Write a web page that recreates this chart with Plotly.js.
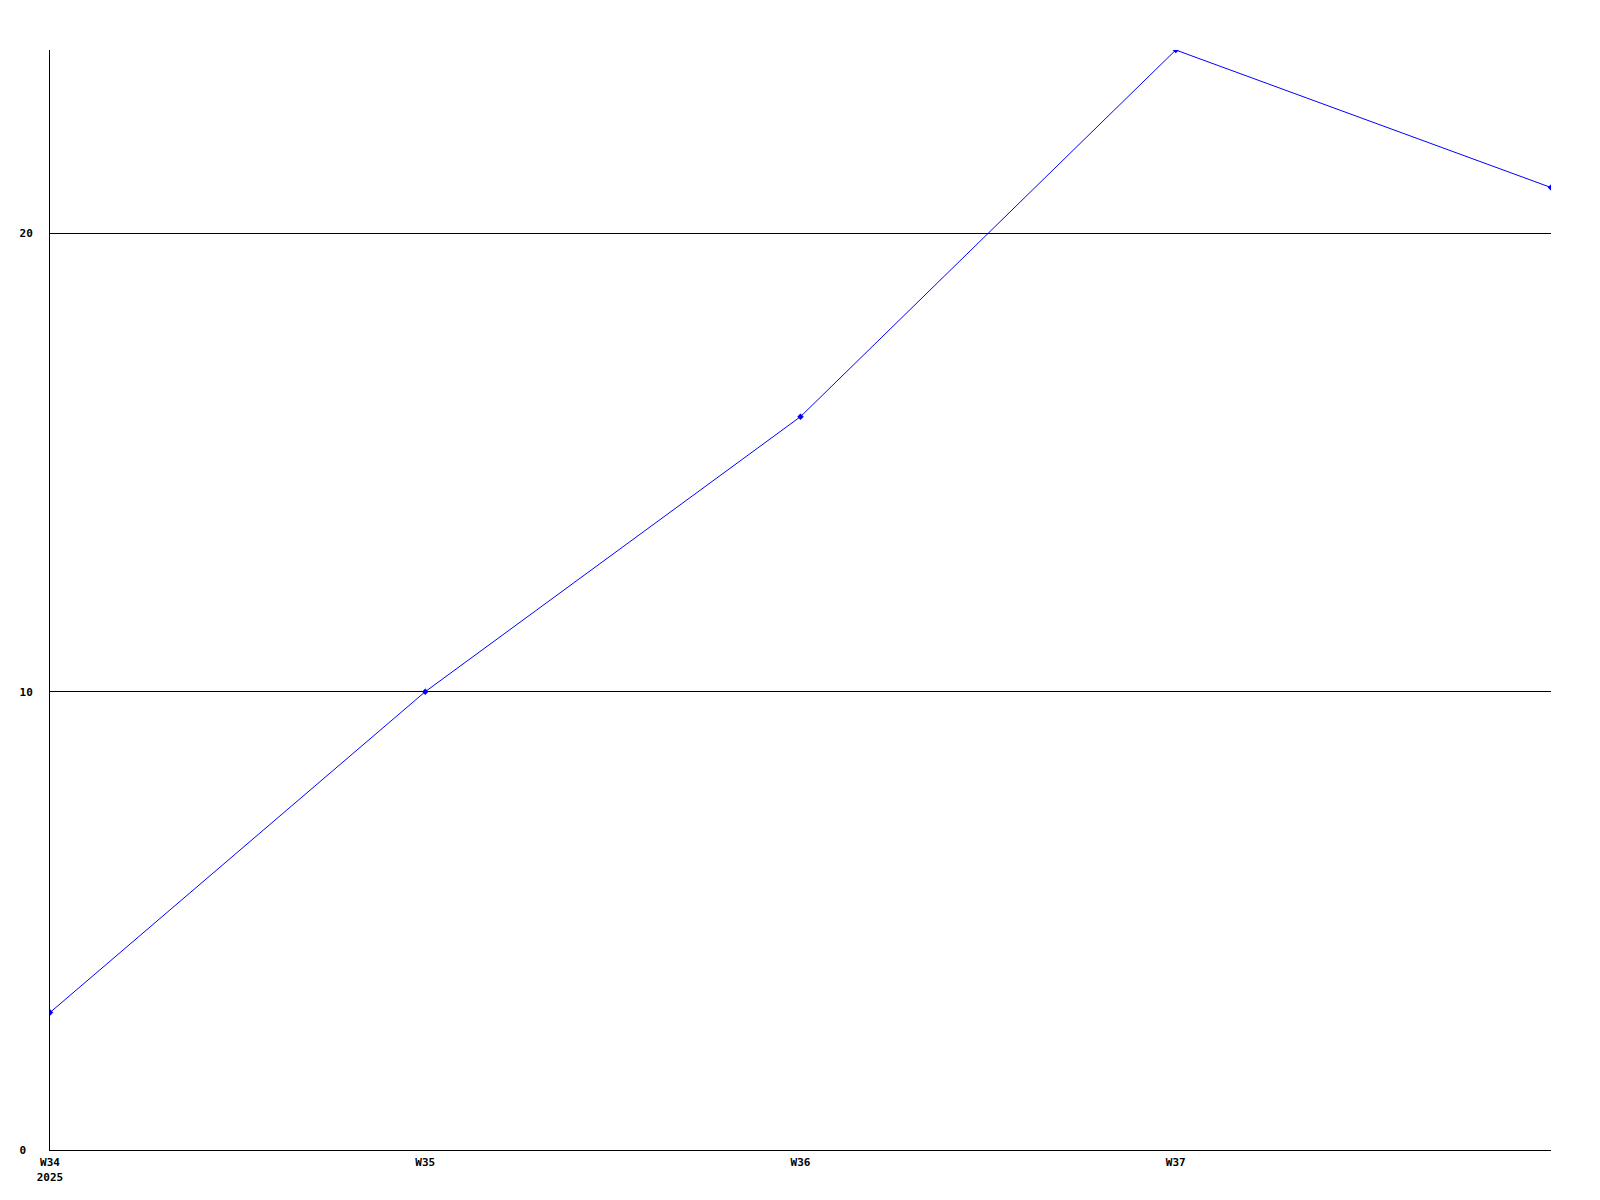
<!DOCTYPE html>
<html>
<head>
<meta charset="utf-8">
<script src="https://cdn.plot.ly/plotly-3.0.1.min.js"></script>
<style>html,body{margin:0;padding:0;background:#fff;}#chart{width:1600px;height:1200px;}</style>
</head>
<body>
<div id="chart"></div>
<script>
const weeks = ['W34', 'W35', 'W36', 'W37', 'W38'];
const values = [3, 10, 16, 24, 21];
const xTickVals = ['W34', 'W35', 'W36', 'W37'];
const xTickText = ['W34<br>2025', 'W35', 'W36', 'W37'];
const yTickVals = [0, 10, 20];
const yTickText = ['0\u00a0', '10', '20'];

const tickFont = {family: 'DejaVu Sans Mono, monospace', size: 11, color: '#000', weight: 'bold'};

Plotly.newPlot('chart', [{
  x: weeks,
  y: values,
  type: 'scatter',
  mode: 'lines+markers',
  line: {color: '#0000ff', width: 1},
  marker: {color: '#0000ff', size: 5, symbol: 'diamond'},
  hoverinfo: 'none'
}], {
  width: 1600,
  height: 1200,
  margin: {l: 50, r: 49, t: 50, b: 50},
  paper_bgcolor: '#fff',
  plot_bgcolor: '#fff',
  showlegend: false,
  xaxis: {
    type: 'category',
    range: [0, 4],
    tickmode: 'array',
    tickvals: xTickVals,
    ticktext: xTickText,
    showgrid: false,
    zeroline: false,
    showline: true,
    linecolor: '#000',
    linewidth: 1,
    ticks: '',
    tickfont: tickFont,
    ticklabelstandoff: 2
  },
  yaxis: {
    range: [0, 24],
    tickmode: 'array',
    tickvals: yTickVals,
    ticktext: yTickText,
    showgrid: true,
    gridcolor: '#000',
    gridwidth: 1,
    zeroline: false,
    showline: true,
    linecolor: '#000',
    linewidth: 1,
    ticks: '',
    tickfont: tickFont,
    ticklabelstandoff: 14
  }
}, {displayModeBar: false, staticPlot: true});
</script>
</body>
</html>
